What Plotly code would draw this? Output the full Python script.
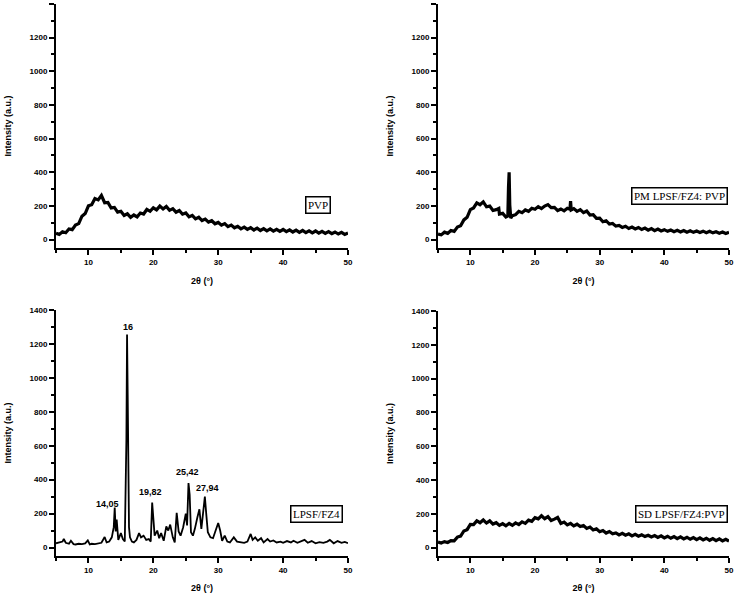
import numpy as np
import plotly.graph_objs as go
from plotly.subplots import make_subplots

# ---- data (2theta in degrees, intensity in a.u.) ----
grid_two_theta = list(np.arange(5.0, 50.01, 0.5))

pvp_intensity = [38, 31, 47, 41, 63, 59, 86, 95, 139, 155,
                 201, 207, 244, 236, 262, 219, 221, 188, 191, 163,
                 168, 143, 153, 132, 146, 135, 158, 152, 179, 168,
                 189, 177, 199, 182, 197, 174, 184, 163, 173, 151,
                 158, 135, 144, 123, 133, 113, 122, 104, 112, 94,
                 102, 86, 95, 77, 86, 70, 79, 64, 74, 61,
                 71, 57, 68, 54, 65, 52, 63, 50, 61, 49,
                 60, 47, 58, 45, 56, 43, 54, 41, 52, 40,
                 51, 38, 49, 37, 47, 35, 45, 33, 43, 31,
                 39]

pm_two_theta = [5, 5.5, 6, 6.5, 7, 7.5, 8, 8.5, 9, 9.5,
                10, 10.5, 11, 11.5, 12, 12.5, 13, 13.5, 14,
                14.4, 14.5, 15, 15.5, 15.8, 15.9, 16.0, 16.1, 16.25, 16.5,
                17, 17.5, 18, 18.5, 19, 19.5, 20, 20.5, 21, 21.5,
                22, 22.5, 23, 23.5, 24, 24.5, 25,
                25.4, 25.5, 25.6,
                26, 26.5, 27, 27.5, 28, 28.5, 29, 29.5, 30, 30.5,
                31, 31.5, 32, 32.5, 33, 33.5, 34, 34.5, 35, 35.5,
                36, 36.5, 37, 37.5, 38, 38.5, 39, 39.5, 40, 40.5,
                41, 41.5, 42, 42.5, 43, 43.5, 44, 44.5, 45, 45.5,
                46, 46.5, 47, 47.5, 48, 48.5, 49, 49.5, 50]
pm_intensity = [33, 28, 44, 37, 54, 49, 75, 82, 117, 132,
                178, 188, 218, 207, 224, 195, 199, 173, 178,
                185, 152, 156, 134, 140, 310, 400, 205, 128, 142,
                148, 168, 160, 176, 168, 186, 180, 196, 184, 199,
                208, 190, 191, 172, 182, 171, 186,
                180, 228, 176,
                184, 168, 178, 160, 170, 146, 148, 126, 127, 106,
                112, 92, 96, 80, 84, 72, 79, 66, 74, 63,
                72, 60, 68, 56, 65, 53, 62, 51, 59, 49,
                57, 47, 55, 45, 54, 44, 52, 43, 51, 42,
                50, 41, 49, 40, 47, 38, 45, 36, 43]

drug_two_theta = [5, 5.5, 6, 6.2, 6.5, 7, 7.3, 7.7, 8, 8.5, 9, 9.5, 9.9, 10.2, 10.5,
                  11, 11.5, 12, 12.5, 12.8, 13.2, 13.6, 13.9, 14.05, 14.2, 14.35, 14.6,
                  15.0, 15.3, 15.6, 15.85, 15.95, 16.05, 16.15, 16.25, 16.4, 16.7,
                  17.0, 17.4, 17.8, 18.1, 18.5, 18.9, 19.3, 19.6, 19.82, 19.95,
                  20.2, 20.6, 20.9, 21.2, 21.6, 22.0, 22.3, 22.6, 23.0, 23.3, 23.6,
                  23.9, 24.2, 24.6, 25.0, 25.2, 25.42, 25.6, 25.8, 26.1, 26.4, 26.8,
                  27.1, 27.4, 27.7, 27.94, 28.15, 28.4, 28.8, 29.2, 29.6, 30.0, 30.3,
                  30.6, 31.0, 31.4, 31.8, 32.4, 32.9, 33.5, 34.0, 34.5, 35.0, 35.3,
                  35.7, 36.1, 36.6, 37.0, 37.6, 38.0, 38.5, 39.0, 39.6, 40.0, 40.6,
                  41.2, 41.6, 42.2, 42.8, 43.3, 43.8, 44.4, 45.0, 45.6, 46.2, 46.8,
                  47.2, 47.8, 48.4, 49.0, 49.5, 50.0]
drug_intensity = [25, 28, 35, 50, 28, 22, 40, 20, 18, 22, 20, 24, 42, 18, 22,
                  20, 24, 28, 62, 30, 35, 60, 120, 235, 95, 165, 45,
                  85, 50, 35, 640, 1255, 900, 230, 120, 60, 35,
                  30, 45, 85, 60, 70, 45, 50, 35, 265, 185,
                  70, 100, 55, 85, 40, 125, 100, 135, 60, 30, 205,
                  95, 70, 120, 200, 130, 380, 310, 90, 70, 110, 180,
                  225, 110, 235, 300, 200, 90, 60, 55, 100, 145, 100,
                  40, 70, 35, 30, 60, 35, 30, 28, 35, 80, 45,
                  60, 40, 55, 30, 50, 35, 42, 30, 35, 28, 38,
                  30, 40, 28, 35, 45, 28, 38, 25, 32, 28, 35,
                  45, 25, 38, 28, 33, 26]

sd_intensity = [33, 27, 35, 30, 41, 40, 62, 68, 98, 106,
                137, 136, 158, 147, 163, 145, 158, 139, 147, 131,
                142, 129, 143, 131, 146, 136, 152, 143, 162, 155,
                177, 170, 188, 171, 183, 160, 168, 178, 143, 151,
                134, 143, 128, 138, 124, 130, 113, 121, 104, 111,
                94, 101, 86, 95, 82, 87, 75, 84, 73, 81,
                69, 78, 67, 75, 65, 73, 63, 71, 60, 69,
                57, 67, 55, 65, 53, 63, 51, 61, 49, 59,
                47, 57, 45, 55, 43, 53, 41, 51, 39, 49,
                38]

sample_labels = ["PVP", "PM LPSF/FZ4: PVP", "LPSF/FZ4", "SD LPSF/FZ4:PVP"]
peak_labels = ["16", "14,05", "19,82", "25,42", "27,94"]
peak_label_x = [16.1, 12.9, 19.5, 25.3, 28.4]
peak_label_y = [1300, 254, 325, 443, 349]

W, H = 734, 593

fig = make_subplots(rows=2, cols=2)

fig.add_trace(go.Scatter(x=grid_two_theta, y=pvp_intensity, mode='lines',
                         line=dict(color='black', width=3.2)), row=1, col=1)
fig.add_trace(go.Scatter(x=pm_two_theta, y=pm_intensity, mode='lines',
                         line=dict(color='black', width=3.2)), row=1, col=2)
fig.add_trace(go.Scatter(x=drug_two_theta, y=drug_intensity, mode='lines',
                         line=dict(color='black', width=1.8)), row=2, col=1)
fig.add_trace(go.Scatter(x=grid_two_theta, y=sd_intensity, mode='lines',
                         line=dict(color='black', width=3.2)), row=2, col=2)

# panel boxes in pixels: (left, right, top, bottom)
panels = [(56, 348, 4, 248), (438, 729, 4, 248), (56, 348, 310, 556), (438, 729, 311, 556)]
axis_font = dict(family='Liberation Sans', size=8, color='black', weight='bold')
title_font = dict(family='Liberation Sans', size=9, color='black', weight='bold')
for i, (l, r, t, b) in enumerate(panels):
    n = '' if i == 0 else str(i + 1)
    fig.layout['xaxis' + n].update(
        domain=[l / W, r / W], range=[5, 50], tick0=10, dtick=10, automargin=False,
        showline=True, linecolor='black', linewidth=2, mirror=False,
        ticks='outside', ticklen=5, tickwidth=2, tickcolor='black',
        minor=dict(ticks='outside', ticklen=3, tickwidth=1.5, dtick=5, tick0=5, tickcolor='black'),
        showgrid=False, zeroline=False, tickfont=axis_font,
        title=dict(text='2θ (°)', font=title_font, standoff=12))
    fig.layout['yaxis' + n].update(
        domain=[1 - b / H, 1 - t / H], range=[-50, 1400], tick0=0, dtick=200, automargin=False,
        showline=True, linecolor='black', linewidth=2, mirror=False,
        ticks='outside', ticklen=5, tickwidth=2, tickcolor='black',
        minor=dict(ticks='outside', ticklen=3, tickwidth=1.5, dtick=100, tick0=0, tickcolor='black'),
        showgrid=False, zeroline=False, tickfont=axis_font,
        title=dict(text='Intensity (a.u.)', font=title_font, standoff=16))

# boxed sample names
box_centers = [(318, 205), (679, 196), (316, 514), (681, 514)]
annotations = []
for label, (cx, cy) in zip(sample_labels, box_centers):
    annotations.append(dict(text=label, x=cx / W, y=1 - cy / H, xref='paper', yref='paper',
                            showarrow=False, xanchor='center', yanchor='middle',
                            font=dict(family='Liberation Serif', size=11, color='black'),
                            bordercolor='black', borderwidth=1.5, borderpad=1.5, bgcolor='white'))

# peak positions on the drug pattern
for label, px, py in zip(peak_labels, peak_label_x, peak_label_y):
    annotations.append(dict(text=label, x=px, y=py, xref='x3', yref='y3', showarrow=False,
                            font=dict(family='Liberation Sans', size=9, color='black', weight='bold')))

fig.update_layout(width=W, height=H, showlegend=False,
                  plot_bgcolor='white', paper_bgcolor='white',
                  margin=dict(l=0, r=0, t=0, b=0),
                  annotations=annotations)

# the page's default body margin would push the figure 8px off the window
fig.write_html("out.html", config={'displayModeBar': False},
               post_script="document.body.style.margin='0px';")
